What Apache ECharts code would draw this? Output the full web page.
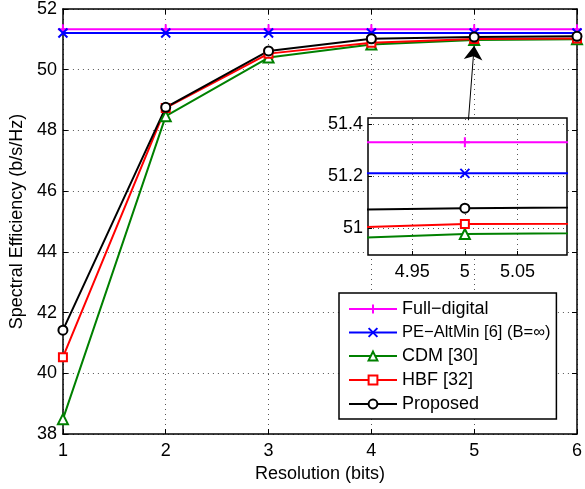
<!DOCTYPE html>
<html>
<head>
<meta charset="utf-8">
<script src="https://cdn.jsdelivr.net/npm/echarts@6/dist/echarts.min.js"></script>
<style>html,body{margin:0;padding:0;background:#fff}#c{width:585px;height:489px}</style>
</head>
<body>
<div id="c"></div>
<script>
// ---- data ----
const resolution = [1, 2, 3, 4, 5, 6];
const fullDigital = [51.33, 51.33, 51.33, 51.33, 51.33, 51.33];
const peAltMin = [51.21, 51.21, 51.21, 51.21, 51.21, 51.21];
const cdm = [38.49, 48.47, 50.40, 50.83, 50.977, 51.00];
const hbf = [40.53, 48.74, 50.53, 50.89, 51.015, 51.03];
const proposed = [41.42, 48.76, 50.62, 51.02, 51.076, 51.10];
const seriesNames = ['Full\u2212digital', 'PE\u2212AltMin [6] (B=\u221e)', 'CDM [30]', 'HBF [32]', 'Proposed'];
const xTicks = [1, 2, 3, 4, 5, 6];
const yTicks = [38, 40, 42, 44, 46, 48, 50, 52];
const insetXTicks = [4.95, 5, 5.05];
const insetYTicks = [51, 51.2, 51.4];
const insetXRange = [4.908, 5.097];
const insetYRange = [50.896, 51.423];
const arrowFrom = [4.944, 48.336];
const arrowTo = [5.0, 50.79];

const FONT = 'Liberation Sans';
const colors = ['#ff00ff', '#0000ff', '#008000', '#ff0000', '#000000'];
const symbols = ['path://M0,5L10,5M5,0L5,10', 'path://M0,0L10,10M10,0L0,10', 'emptyTriangle', 'emptyRect', 'emptyCircle'];
const symbolSizes = [10, 9, 10, 8, 9];
const values = [fullDigital, peAltMin, cdm, hbf, proposed];
const pairs = v => resolution.map((x, i) => [x, v[i]]);
const gridDot = { color: '#555', width: 1, type: [1, 4] };

const series = [];
values.forEach((v, k) => {
  const s = {
    name: seriesNames[k], type: 'line', xAxisIndex: 0, yAxisIndex: 0,
    data: pairs(v), symbol: symbols[k], symbolSize: symbolSizes[k],
    showAllSymbol: true, animation: false, z: 2,
    lineStyle: { color: colors[k], width: 2 },
    itemStyle: { color: colors[k], borderColor: colors[k], borderWidth: k < 2 ? 2 : 1.6 }
  };
  if (k === 4) {
    s.markLine = {
      silent: true, animation: false, z: 6, symbolSize: 14,
      lineStyle: { color: '#000', width: 1, type: 'solid' },
      label: { show: false },
      data: [[{ coord: arrowFrom, symbol: 'none' }, { coord: arrowTo, symbol: 'arrow' }]]
    };
  }
  series.push(s);
});
values.forEach((v, k) => {
  const s = {
    name: seriesNames[k], type: 'line', xAxisIndex: 2, yAxisIndex: 2,
    data: pairs(v), symbol: symbols[k], symbolSize: symbolSizes[k],
    showAllSymbol: true, animation: false, z: 6, clip: true,
    lineStyle: { color: colors[k], width: 2 },
    itemStyle: { color: colors[k], borderColor: colors[k], borderWidth: k < 2 ? 2 : 1.6 }
  };
  if (k === 0) {
    s.markLine = {
      silent: true, animation: false, z: 5, symbol: 'none',
      lineStyle: gridDot, label: { show: false },
      data: insetXTicks.map(t => ({ xAxis: t })).concat(insetYTicks.map(t => ({ yAxis: t })))
    };
  }
  series.push(s);
});

const labelStyle = { color: '#000', fontSize: 18, fontFamily: FONT };
const chart = echarts.init(document.getElementById('c'), null, { renderer: 'canvas' });
chart.setOption({
  backgroundColor: '#fff',
  animation: false,
  grid: [
    { left: 59, right: 5, top: 6, bottom: 55, z: 0 },
    { left: 368, width: 199, top: 118, height: 137, show: true, backgroundColor: '#fff', borderColor: '#000', borderWidth: 1.5, z: 4 }
  ],
  xAxis: [
    { type: 'value', gridIndex: 0, min: xTicks[0], max: xTicks[xTicks.length - 1], interval: 1,
      name: 'Resolution (bits)', nameLocation: 'middle', nameGap: 30, nameTextStyle: labelStyle,
      axisLine: { lineStyle: { color: '#000', width: 1.5 } },
      axisTick: { inside: true, length: 5, lineStyle: { color: '#000' } },
      axisLabel: Object.assign({ margin: 8 }, labelStyle),
      splitLine: { show: true, lineStyle: gridDot } },
    { type: 'value', gridIndex: 0, position: 'top', min: xTicks[0], max: xTicks[xTicks.length - 1], interval: 1,
      axisLine: { lineStyle: { color: '#000', width: 1.5 } },
      axisTick: { inside: true, length: 5, lineStyle: { color: '#000' } },
      axisLabel: { show: false }, splitLine: { show: false } },
    { type: 'value', gridIndex: 1, min: insetXRange[0], max: insetXRange[1], z: 6,
      axisLine: { show: false },
      axisTick: { show: true, inside: true, length: 4, customValues: insetXTicks, lineStyle: { color: '#000' } },
      axisLabel: Object.assign({ margin: 8, customValues: insetXTicks }, labelStyle),
      splitLine: { show: false } }
  ],
  yAxis: [
    { type: 'value', gridIndex: 0, min: yTicks[0], max: yTicks[yTicks.length - 1], interval: 2,
      name: 'Spectral Efficiency (b/s/Hz)', nameLocation: 'middle', nameGap: 32, nameTextStyle: labelStyle,
      axisLine: { show: true, lineStyle: { color: '#000', width: 1.5 } },
      axisTick: { show: true, inside: true, length: 5, lineStyle: { color: '#000' } },
      axisLabel: Object.assign({ margin: 6 }, labelStyle),
      splitLine: { show: true, lineStyle: gridDot } },
    { type: 'value', gridIndex: 0, position: 'right', min: yTicks[0], max: yTicks[yTicks.length - 1], interval: 2,
      axisLine: { show: true, lineStyle: { color: '#000', width: 1.5 } },
      axisTick: { show: true, inside: true, length: 5, lineStyle: { color: '#000' } },
      axisLabel: { show: false }, splitLine: { show: false } },
    { type: 'value', gridIndex: 1, min: insetYRange[0], max: insetYRange[1], z: 6,
      axisLine: { show: false },
      axisTick: { show: true, inside: true, length: 4, customValues: insetYTicks, lineStyle: { color: '#000' } },
      axisLabel: Object.assign({ margin: 5, customValues: insetYTicks, formatter: v => String(Math.round(v * 10) / 10) }, labelStyle),
      splitLine: { show: false } }
  ],
  legend: {
    data: seriesNames, orient: 'vertical', left: 339, top: 293,
    itemWidth: 48, itemHeight: 11, itemGap: 6,
    padding: [7, 6, 6, 9],
    backgroundColor: '#fff', borderColor: '#000', borderWidth: 1.5,
    formatter: name => name === seriesNames[1] ? '{s|' + name + '}' : name,
    textStyle: { color: '#000', fontSize: 18, fontFamily: FONT,
      rich: { s: { color: '#000', fontSize: 16.5, fontFamily: FONT } } },
    selectedMode: false, z: 8
  },
  series: series
});
</script>
</body>
</html>
